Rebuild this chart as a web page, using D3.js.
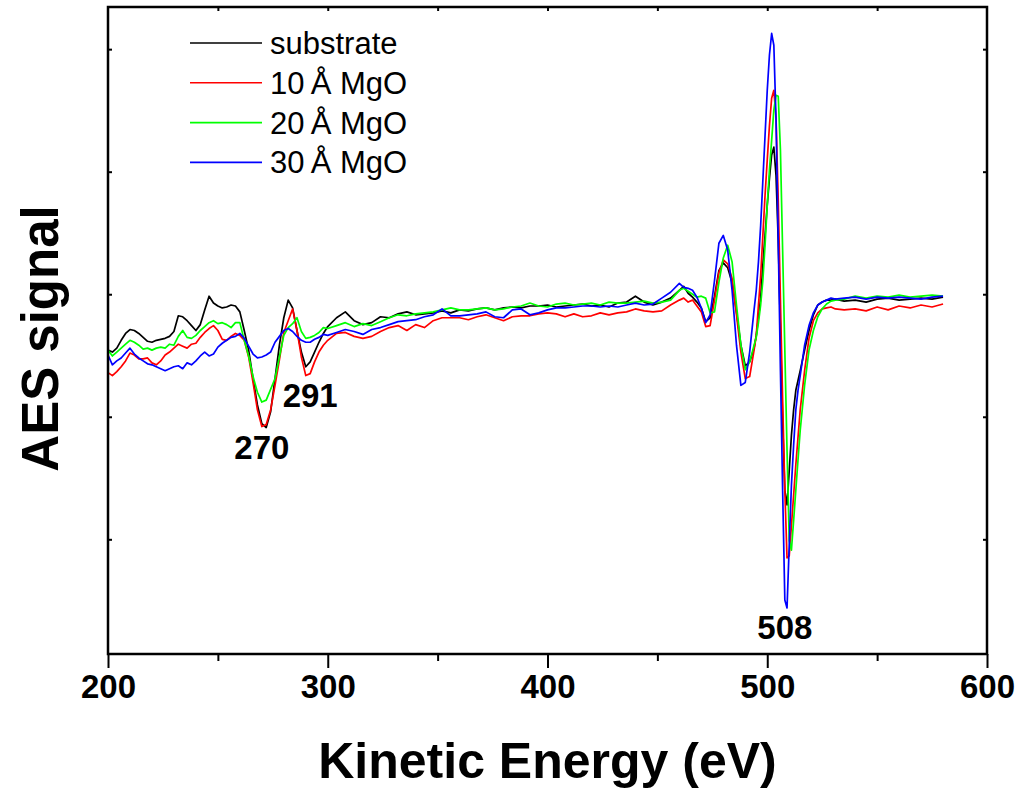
<!DOCTYPE html>
<html>
<head>
<meta charset="utf-8">
<script src="https://cdn.jsdelivr.net/npm/d3@7.9.0/dist/d3.min.js"></script>
<style>
  html, body { margin: 0; padding: 0; background: #fff; }
  svg { display: block; font-family: "Liberation Sans", Arial, sans-serif; }
</style>
</head>
<body>
<svg id="chart" width="1018" height="789"></svg>
<script>
// kinetic energy grid (eV), shared by all four spectra
const energy = [
  200, 202, 204, 206, 208, 210, 212, 214, 216, 218, 220, 222, 224, 226, 228, 230, 232, 234, 236, 238,
  240, 242, 244, 246, 248, 250, 252, 254, 256, 258, 260, 262, 264, 266, 268, 270, 272, 274, 276, 278,
  280, 282, 284, 286, 288, 290, 292, 294, 296, 298, 300,
  304, 308, 312, 316, 320, 324, 328, 332, 336, 340, 344, 348, 352, 356, 360, 364, 368, 372, 376, 380,
  384, 388, 392, 396, 400, 404, 408, 412, 416, 420, 424, 428, 432, 436, 440, 444, 448, 452, 456,
  460, 462, 464, 466, 468, 470, 472, 474, 476, 478, 480, 482, 484, 486, 488, 490, 492, 494,
  495, 496, 497, 498, 499, 500, 501, 502, 503, 504, 505, 506, 507, 508, 509, 510, 511, 512, 513, 514, 515,
  517, 519, 521, 523, 525, 527, 529, 531,
  535, 540, 545, 550, 555, 560, 565, 570, 575, 580,
];

// AES signal, arbitrary units
const substrate = [
  -57, -59, -55, -47, -40, -36, -37, -40, -44, -48, -49, -47, -46, -45, -43, -38, -22, -23, -27, -32,
  -37, -31, -16, -2, -9, -12, -14, -13, -11, -12, -18, -37, -57, -86, -113, -132, -136, -120, -86, -52,
  -24, -6, -14, -37, -59, -74, -69, -59, -49, -40, -33,
  -24, -18, -27, -31, -29, -23, -24, -20, -18, -21, -20, -19, -17, -19, -16, -17, -15, -14, -16, -14,
  -13, -14, -12, -12, -11, -13, -12, -11, -10, -12, -11, -13, -9, -8, -2, -8, -11, -8, -4,
  4, 8, 1, -3, -8, -14, -28, -24, -2, 24, 32, 27, 12, -18, -52, -73, -69, -55,
  -42, -24, -4, 30, 60, 91, 118, 142, 150, 121, 55, -37, -129, -200, -215, -180, -144, -118, -98, -88, -78,
  -57, -37, -21, -11, -8, -6, -6, -5,
  -7, -6, -8, -5, -4, -6, -5, -4, -5, -3,
];

const mgo10 = [
  -80, -83, -79, -74, -68, -60, -62, -66, -66, -65, -70, -72, -68, -62, -59, -55, -51, -53, -55, -51,
  -50, -44, -39, -35, -32, -37, -46, -47, -43, -40, -42, -47, -64, -90, -118, -135, -133, -118, -93, -67,
  -39, -27, -15, -37, -64, -83, -81, -69, -59, -52, -47,
  -40, -39, -43, -45, -43, -38, -34, -32, -37, -31, -34, -27, -24, -24, -24, -26, -23, -21, -24, -27,
  -23, -22, -22, -20, -19, -20, -23, -20, -23, -22, -19, -21, -19, -18, -15, -17, -18, -17, -11,
  -6, -4, -8, -6, -12, -18, -33, -32, -6, 22, 35, 31, 16, -21, -59, -86, -84, -57,
  -42, -11, 19, 60, 101, 137, 172, 200, 208, 180, 96, -6, -108, -200, -269, -267, -236, -205, -174, -146, -118,
  -78, -45, -27, -19, -15, -14, -13, -15,
  -16, -15, -17, -13, -16, -12, -14, -11, -13, -10,
];

const mgo20 = [
  -57, -63, -59, -55, -51, -47, -49, -52, -56, -55, -57, -55, -54, -55, -51, -52, -43, -37, -44, -45,
  -42, -37, -33, -29, -27, -30, -29, -31, -34, -29, -29, -47, -63, -84, -100, -110, -108, -97, -86, -64,
  -42, -34, -30, -24, -38, -45, -44, -42, -39, -34, -35,
  -32, -29, -33, -30, -32, -28, -24, -21, -22, -20, -19, -18, -16, -14, -16, -16, -15, -14, -16, -15,
  -13, -12, -9, -12, -13, -10, -9, -11, -10, -9, -11, -8, -9, -9, -8, -7, -9, -8, -6,
  4, 6, 3, 0, -3, -2, -4, -19, -18, 12, 37, 50, 33, -11, -52, -77, -69, -52,
  -44, -29, -11, 14, 50, 91, 127, 157, 188, 203, 202, 147, 45, -57, -159, -251, -261, -231, -200, -169, -139,
  -93, -57, -37, -23, -15, -10, -7, -6,
  -5, -2, -4, -2, -3, -1, -3, -2, -1, -2,
];

const mgo30 = [
  -62, -72, -68, -65, -60, -55, -61, -65, -68, -71, -72, -74, -76, -78, -76, -74, -73, -76, -70, -72,
  -68, -63, -59, -63, -61, -54, -50, -47, -44, -43, -40, -45, -53, -61, -65, -64, -62, -59, -49, -43,
  -37, -35, -38, -43, -47, -49, -49, -46, -44, -41, -42,
  -39, -36, -38, -41, -36, -34, -31, -28, -27, -26, -23, -21, -15, -22, -22, -21, -20, -18, -23, -24,
  -16, -15, -21, -19, -16, -14, -14, -13, -12, -12, -13, -12, -13, -11, -9, -11, -10, -4, 2,
  11, 7, 6, 4, -3, -14, -29, -21, 14, 52, 60, 45, 4, -52, -93, -90, -59, -16,
  4, 33, 70, 116, 162, 208, 244, 266, 254, 178, 55, -78, -200, -312, -320, -256, -195, -154, -118, -98, -83,
  -52, -32, -19, -11, -8, -6, -4, -5,
  -4, -3, -5, -3, -4, -3, -4, -5, -3, -2,
];

const seriesNames = ["substrate", "10\u2009Å MgO", "20\u2009Å MgO", "30\u2009Å MgO"];
const seriesValues = [substrate, mgo10, mgo20, mgo30];
const seriesColors = ["#000000", "#ff0000", "#00ff00", "#0000ff"];

const xMajorTicks = [200, 300, 400, 500, 600];
const xMinorTicks = [250, 350, 450, 550];
const yTicks = [-250, -125, 0, 125, 250];

// label anchor points (energy, signal) just above each label
const peakLabels = [
  { text: "270", energy: 270, signal: -136 },
  { text: "291", energy: 292, signal: -83 },
  { text: "508", energy: 508, signal: -320 },
];

const margin = { top: 7, right: 31, bottom: 135, left: 108 };
const width = 1018;
const height = 789;

const svg = d3.select("#chart");

const x = d3.scaleLinear().domain([200, 600]).range([margin.left, width - margin.right]);
const y = d3.scaleLinear().domain([-367, 293]).range([height - margin.bottom, margin.top]);

const plotLeft = x.range()[0];
const plotRight = x.range()[1];
const plotTop = y.range()[1];
const plotBottom = y.range()[0];

// spectra
const line = d3
  .line()
  .x((d) => x(d[0]))
  .y((d) => y(d[1]));

seriesValues.forEach((values, i) => {
  svg
    .append("path")
    .datum(energy.map((e, j) => [e, values[j]]))
    .attr("fill", "none")
    .attr("stroke", seriesColors[i])
    .attr("stroke-width", 1.7)
    .attr("stroke-linejoin", "round")
    .attr("d", line);
});

// bottom axis: outward major and minor ticks
const bottomMajor = d3.axisBottom(x).tickValues(xMajorTicks).tickSize(14).tickPadding(7);
const bottomMinor = d3.axisBottom(x).tickValues(xMinorTicks).tickSize(7).tickFormat("");

const gMinor = svg.append("g").attr("transform", `translate(0,${plotBottom})`).call(bottomMinor);
const gMajor = svg.append("g").attr("transform", `translate(0,${plotBottom})`).call(bottomMajor);

// top axis: small inward ticks
const gTop = svg
  .append("g")
  .attr("transform", `translate(0,${plotTop})`)
  .call(d3.axisTop(x).tickValues(xMinorTicks.concat([300, 400, 500])).tickSize(-4).tickFormat(""));

// left and right axes: small inward ticks, no labels
const gLeft = svg
  .append("g")
  .attr("transform", `translate(${plotLeft},0)`)
  .call(d3.axisLeft(y).tickValues(yTicks).tickSize(-4).tickFormat(""));
const gRight = svg
  .append("g")
  .attr("transform", `translate(${plotRight},0)`)
  .call(d3.axisRight(y).tickValues(yTicks).tickSize(-4).tickFormat(""));

[gMinor, gMajor, gTop, gLeft, gRight].forEach((g) => {
  g.select(".domain").remove();
  g.selectAll(".tick line").attr("stroke", "#000").attr("stroke-width", 2);
});

gMajor
  .selectAll(".tick text")
  .attr("fill", "#000")
  .style("font-family", '"Liberation Sans", Arial, sans-serif')
  .style("font-size", "33px")
  .style("font-weight", "bold");

// frame
svg
  .append("rect")
  .attr("x", plotLeft)
  .attr("y", plotTop)
  .attr("width", plotRight - plotLeft)
  .attr("height", plotBottom - plotTop)
  .attr("fill", "none")
  .attr("stroke", "#000")
  .attr("stroke-width", 2.5);

// peak annotations
svg
  .selectAll("text.peak")
  .data(peakLabels)
  .enter()
  .append("text")
  .attr("class", "peak")
  .attr("x", (d) => x(d.energy))
  .attr("y", (d) => y(d.signal) + 31)
  .attr("text-anchor", "middle")
  .style("font-size", "33px")
  .style("font-weight", "bold")
  .text((d) => d.text);

// legend
const legend = svg.append("g").attr("transform", "translate(190,43)");
seriesNames.forEach((name, i) => {
  const row = legend.append("g").attr("transform", `translate(0,${i * 39.8})`);
  row
    .append("line")
    .attr("x1", 0)
    .attr("x2", 72)
    .attr("stroke", seriesColors[i])
    .attr("stroke-width", 1.6);
  row
    .append("text")
    .attr("x", 80)
    .attr("y", 11)
    .style("font-size", "31px")
    .text(name);
});

// axis titles
svg
  .append("text")
  .attr("x", (plotLeft + plotRight) / 2)
  .attr("y", 778)
  .attr("text-anchor", "middle")
  .style("font-size", "50px")
  .style("font-weight", "bold")
  .text("Kinetic Energy (eV)");

svg
  .append("text")
  .attr("transform", `translate(58,${(plotTop + plotBottom) / 2 + 8}) rotate(-90)`)
  .attr("text-anchor", "middle")
  .style("font-size", "51px")
  .style("font-weight", "bold")
  .text("AES signal");
</script>
</body>
</html>
